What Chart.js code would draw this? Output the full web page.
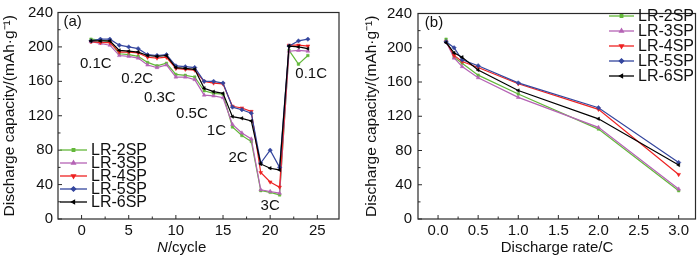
<!DOCTYPE html>
<html>
<head>
<meta charset="utf-8">
<script src="https://cdn.jsdelivr.net/npm/chart.js@4/dist/chart.umd.min.js"></script>
<style>
html, body { margin: 0; padding: 0; background: #fff; }
#wrap { position: relative; width: 700px; height: 257px; }
canvas { position: absolute; top: 0; }
</style>
</head>
<body>
<div id="wrap">
  <canvas id="plotA" width="350" height="257" style="left:0"></canvas>
  <canvas id="plotB" width="350" height="257" style="left:350px"></canvas>
</div>
<script>
// series names
var seriesNames = ['LR-2SP', 'LR-3SP', 'LR-4SP', 'LR-5SP', 'LR-6SP'];

// (a) capacity vs cycle number
var cycles = [1, 2, 3, 4, 5, 6, 7, 8, 9, 10, 11, 12, 13, 14, 15, 16, 17, 18, 19, 20, 21, 22, 23, 24];
var lr2Cycle = [209, 208, 206, 192, 191, 189, 182, 178, 181, 168, 167, 165, 149, 146, 145, 107, 97, 90, 33, 31, 28, 196, 180, 190];
var lr3Cycle = [206, 204, 202, 190, 189, 187, 179, 176, 179, 165, 165, 162, 144, 143, 141, 110, 100, 93, 34, 32, 30, 195, 196, 195];
var lr4Cycle = [206, 205, 205, 194, 194, 193, 188, 187, 188, 175, 174, 173, 160, 158, 157, 131, 129, 125, 54, 43, 37, 202, 202, 201];
var lr5Cycle = [207, 209, 209, 202, 200, 198, 191, 190, 191, 178, 177, 176, 160, 160, 158, 130, 127, 123, 65, 80, 60, 201, 207, 209];
var lr6Cycle = [207, 207, 207, 196, 195, 194, 190, 189, 190, 176, 175, 174, 152, 148, 146, 119, 117, 114, 64, 59, 57, 201, 200, 198];

// (b) capacity vs discharge rate
var rates = [0.1, 0.2, 0.3, 0.5, 1.0, 2.0, 3.0];
var lr2Rate = [210, 189, 182, 168, 146, 105, 33];
var lr3Rate = [207, 188, 178, 165, 142, 107, 35];
var lr4Rate = [207, 191, 184, 177, 158, 128, 52];
var lr5Rate = [207, 200, 186, 179, 159, 130, 66];
var lr6Rate = [206, 194, 189, 174, 150, 117, 63];

// ticks
var capTicks = [0, 40, 80, 120, 160, 200, 240];
var capMinor = [20, 60, 100, 140, 180, 220];
var cycleTicks = [0, 5, 10, 15, 20, 25];
var cycleMinor = [2.5, 7.5, 12.5, 17.5, 22.5];
var rateTicks = [0, 0.5, 1.0, 1.5, 2.0, 2.5, 3.0];
var rateMinor = [0.25, 0.75, 1.25, 1.75, 2.25, 2.75];

var FONT = '"Liberation Sans", Arial, sans-serif';
var colors = ['#63b83a', '#b563b5', '#ee2222', '#34469e', '#000000'];
var markers = [
  { pointStyle: 'rect', radius: 1.8, rotation: 0 },
  { pointStyle: 'triangle', radius: 2.2, rotation: 0 },
  { pointStyle: 'triangle', radius: 2.2, rotation: 180 },
  { pointStyle: 'rectRot', radius: 2.2, rotation: 0 },
  { pointStyle: 'triangle', radius: 2.0, rotation: -90 }
];

function makeSets(xs, lists) {
  return lists.map(function (vals, i) {
    return {
      label: seriesNames[i],
      data: vals.map(function (v, j) { return { x: xs[j], y: v }; }),
      borderColor: colors[i],
      backgroundColor: colors[i],
      pointBackgroundColor: colors[i],
      pointBorderColor: colors[i],
      borderWidth: 1.2,
      pointStyle: markers[i].pointStyle,
      pointRadius: markers[i].radius,
      pointRotation: markers[i].rotation,
      pointBorderWidth: 0.5,
      tension: 0,
      order: 4 - i
    };
  });
}

// frame, inward ticks, legend, notes
var decor = {
  id: 'decor',
  afterDraw: function (chart) {
    var o = chart.options.plugins.decor;
    var ctx = chart.ctx, a = chart.chartArea;
    var sx = chart.scales.x, sy = chart.scales.y;
    ctx.save();
    ctx.strokeStyle = '#2a2a2a';
    ctx.lineWidth = 1.2;
    ctx.strokeRect(a.left, a.top, a.right - a.left, a.bottom - a.top);
    ctx.lineWidth = 1;
    ctx.beginPath();
    o.xMajor.forEach(function (v) { var p = sx.getPixelForValue(v); ctx.moveTo(p, a.bottom); ctx.lineTo(p, a.bottom - 4); });
    o.xMinor.forEach(function (v) { var p = sx.getPixelForValue(v); ctx.moveTo(p, a.bottom); ctx.lineTo(p, a.bottom - 2.5); });
    o.yMajor.forEach(function (v) { var p = sy.getPixelForValue(v); ctx.moveTo(a.left, p); ctx.lineTo(a.left + 4, p); });
    o.yMinor.forEach(function (v) { var p = sy.getPixelForValue(v); ctx.moveTo(a.left, p); ctx.lineTo(a.left + 2.5, p); });
    ctx.stroke();

    // legend
    var lg = o.legend;
    ctx.font = '16px ' + FONT;
    ctx.textBaseline = 'middle';
    ctx.textAlign = 'left';
    chart.data.datasets.forEach(function (ds, i) {
      var yy = lg.y + i * lg.step;
      ctx.strokeStyle = ds.borderColor;
      ctx.fillStyle = ds.borderColor;
      ctx.lineWidth = 1.3;
      ctx.beginPath();
      ctx.moveTo(lg.x0, yy);
      ctx.lineTo(lg.x1, yy);
      ctx.stroke();
      if (Chart.helpers && Chart.helpers.drawPoint) {
        Chart.helpers.drawPoint(ctx, { pointStyle: ds.pointStyle, radius: ds.pointRadius, rotation: ds.pointRotation, borderWidth: 0.5 }, (lg.x0 + lg.x1) / 2, yy);
      }
      ctx.fillStyle = '#111';
      ctx.fillText(ds.label, lg.tx, yy + 1);
    });

    // notes placed at data coordinates
    ctx.fillStyle = '#111';
    ctx.textAlign = 'center';
    ctx.font = '15px ' + FONT;
    o.notes.forEach(function (n) {
      ctx.fillText(n.text, sx.getPixelForValue(n.x), sy.getPixelForValue(n.y));
    });

    // x title
    var xt = o.xTitle;
    ctx.textAlign = 'left';
    ctx.font = xt.italic ? 'italic 15px ' + FONT : '15px ' + FONT;
    var w1 = ctx.measureText(xt.italic).width;
    ctx.font = '15px ' + FONT;
    var w2 = ctx.measureText(xt.rest).width;
    var start = xt.cx - (w1 + w2) / 2;
    if (xt.italic) {
      ctx.font = 'italic 15px ' + FONT;
      ctx.fillText(xt.italic, start, xt.cy);
    }
    ctx.font = '15px ' + FONT;
    ctx.fillText(xt.rest, start + w1, xt.cy);
    ctx.restore();
  }
};

function makeChart(id, xs, lists, cfg) {
  return new Chart(document.getElementById(id), {
    type: 'line',
    data: { datasets: makeSets(xs, lists) },
    options: {
      responsive: false,
      animation: false,
      layout: { padding: cfg.padding },
      plugins: {
        legend: { display: false },
        tooltip: { enabled: false },
        decor: cfg.decor
      },
      scales: {
        x: {
          type: 'linear',
          min: cfg.xMin,
          max: cfg.xMax,
          grid: { display: false, drawTicks: false },
          border: { display: false },
          afterBuildTicks: function (s) { s.ticks = cfg.xTicks.map(function (v) { return { value: v }; }); },
          afterFit: function (s) { s.height = 38; },
          ticks: {
            padding: 4,
            color: '#111',
            font: { family: FONT, size: 15, lineHeight: 1.0 },
            callback: cfg.xFmt
          }
        },
        y: {
          type: 'linear',
          min: 0,
          max: 240,
          grid: { display: false, drawTicks: false },
          border: { display: false },
          afterBuildTicks: function (s) { s.ticks = capTicks.map(function (v) { return { value: v }; }); },
          afterFit: function (s) { s.width = cfg.yWidth; },
          ticks: {
            padding: cfg.yPad,
            color: '#111',
            font: { family: FONT, size: 15, lineHeight: 1.0 }
          },
          title: {
            display: true,
            text: 'Discharge capacity/(mAh·g⁻¹)',
            color: '#111',
            font: { family: FONT, size: 15.5 },
            padding: { top: 0, bottom: 0 }
          }
        }
      }
    },
    plugins: [decor]
  });
}

makeChart('plotA', cycles, [lr2Cycle, lr3Cycle, lr4Cycle, lr5Cycle, lr6Cycle], {
  padding: { left: 0, right: 11, top: 0, bottom: 0 },
  xMin: -2.5, xMax: 27.3,
  xTicks: cycleTicks,
  xFmt: function (v) { return String(v); },
  yWidth: 58, yPad: 5,
  decor: {
    xMajor: cycleTicks, xMinor: cycleMinor, yMajor: capTicks, yMinor: capMinor,
    legend: { x0: 60, x1: 87, tx: 91, y: 150, step: 13 },
    notes: [
      { text: '(a)', x: -0.95, y: 229.6 },
      { text: '0.1C', x: 1.5, y: 180.5 },
      { text: '0.2C', x: 5.9, y: 162.3 },
      { text: '0.3C', x: 8.3, y: 140.7 },
      { text: '0.5C', x: 11.7, y: 121.8 },
      { text: '1C', x: 14.3, y: 103 },
      { text: '2C', x: 16.6, y: 70.7 },
      { text: '3C', x: 20.0, y: 14.8 },
      { text: '0.1C', x: 24.35, y: 168.3 }
    ],
    xTitle: { italic: 'N', rest: '/cycle', cx: 181.7, cy: 248 }
  }
});

makeChart('plotB', rates, [lr2Rate, lr3Rate, lr4Rate, lr5Rate, lr6Rate], {
  padding: { left: 12, right: 4, top: 0, bottom: 0 },
  xMin: -0.25, xMax: 3.21,
  xTicks: rateTicks,
  xFmt: function (v) { return v.toFixed(1); },
  yWidth: 56, yPad: 6,
  decor: {
    xMajor: rateTicks, xMinor: rateMinor, yMajor: capTicks, yMinor: capMinor,
    legend: { x0: 259, x1: 284, tx: 288, y: 16, step: 15 },
    notes: [
      { text: '(b)', x: -0.05, y: 229.6 }
    ],
    xTitle: { italic: '', rest: 'Discharge rate/C', cx: 207, cy: 248 }
  }
});
</script>
</body>
</html>
